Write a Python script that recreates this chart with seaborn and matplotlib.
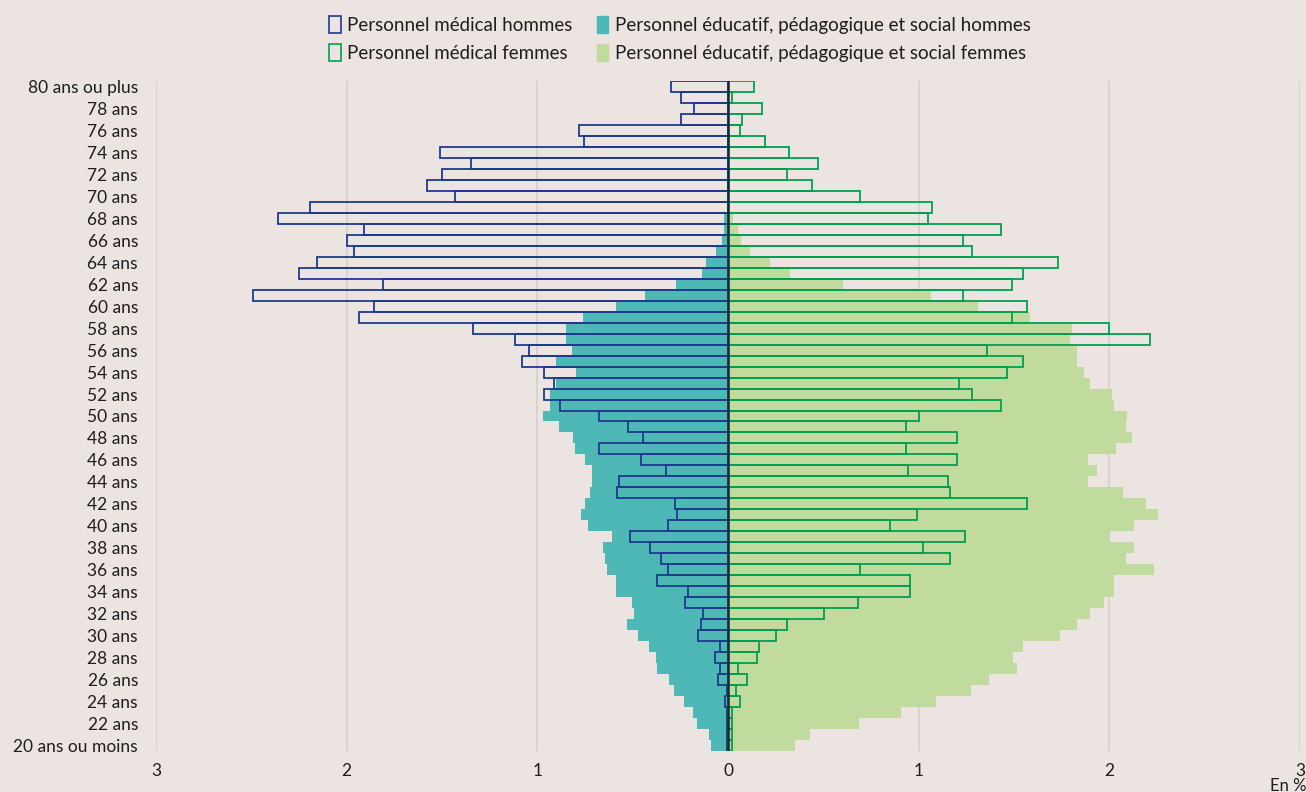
import matplotlib
matplotlib.use("Agg")
import matplotlib.pyplot as plt
from matplotlib.patches import Patch
import seaborn as sns
import pandas as pd

# ---- data -------------------------------------------------------------
ages = ["80 ans ou plus"] + [f"{a} ans" for a in range(79, 20, -1)] + ["20 ans ou moins"]

medical_hommes = [0.30, 0.245, 0.18, 0.245, 0.78, 0.755, 1.51, 1.35, 1.50, 1.58,
                  1.43, 2.19, 2.36, 1.91, 2.00, 1.96, 2.155, 2.25, 1.81, 2.49,
                  1.855, 1.935, 1.335, 1.115, 1.045, 1.08, 0.965, 0.915, 0.965, 0.88,
                  0.675, 0.525, 0.445, 0.675, 0.455, 0.325, 0.57, 0.58, 0.28, 0.27,
                  0.315, 0.515, 0.41, 0.35, 0.315, 0.375, 0.21, 0.225, 0.13, 0.14,
                  0.155, 0.04, 0.07, 0.04, 0.05, 0.005, 0.015, 0.005, 0.005, 0.005,
                  0.005]
educatif_hommes = [0.005, 0.005, 0.005, 0.005, 0.005, 0.005, 0.005, 0.005, 0.005, 0.005,
                   0.005, 0.005, 0.02, 0.02, 0.03, 0.065, 0.115, 0.135, 0.275, 0.435,
                   0.59, 0.76, 0.85, 0.85, 0.82, 0.90, 0.795, 0.90, 0.935, 0.935,
                   0.97, 0.885, 0.815, 0.805, 0.75, 0.715, 0.715, 0.725, 0.75, 0.77,
                   0.735, 0.61, 0.655, 0.645, 0.635, 0.59, 0.59, 0.505, 0.495, 0.53,
                   0.47, 0.415, 0.38, 0.37, 0.31, 0.285, 0.23, 0.185, 0.16, 0.10,
                   0.09]
medical_femmes = [0.135, 0.02, 0.18, 0.075, 0.065, 0.195, 0.32, 0.47, 0.31, 0.44,
                  0.69, 1.07, 1.05, 1.43, 1.235, 1.28, 1.73, 1.545, 1.49, 1.235,
                  1.57, 1.49, 2.0, 2.215, 1.36, 1.545, 1.465, 1.21, 1.28, 1.43,
                  1.0, 0.935, 1.20, 0.935, 1.20, 0.945, 1.155, 1.165, 1.57, 0.99,
                  0.85, 1.245, 1.025, 1.165, 0.69, 0.955, 0.955, 0.68, 0.505, 0.31,
                  0.25, 0.16, 0.15, 0.055, 0.10, 0.04, 0.065, 0.02, 0.02, 0.02,
                  0.02]
educatif_femmes = [0.0, 0.0, 0.0, 0.0, 0.01, 0.01, 0.01, 0.01, 0.01, 0.01,
                   0.01, 0.01, 0.025, 0.05, 0.07, 0.115, 0.22, 0.325, 0.605, 1.065,
                   1.31, 1.585, 1.805, 1.795, 1.83, 1.83, 1.865, 1.90, 2.015, 2.025,
                   2.095, 2.085, 2.12, 2.035, 1.89, 1.935, 1.89, 2.07, 2.19, 2.255,
                   2.13, 2.005, 2.13, 2.085, 2.235, 2.025, 2.025, 1.97, 1.90, 1.83,
                   1.74, 1.545, 1.495, 1.515, 1.37, 1.275, 1.09, 0.905, 0.685, 0.43,
                   0.35]

xticks = [-3, -2, -1, 0, 1, 2, 3]
xtick_labels = ["3", "2", "1", "0", "1", "2", "3"]
legend_labels = ["Personnel médical hommes", "Personnel médical femmes",
                 "Personnel éducatif, pédagogique et social hommes",
                 "Personnel éducatif, pédagogique et social femmes"]

# ---- styles -----------------------------------------------------------
BG = "#EBE4E1"
TEAL = "#4DB8B5"
LGREEN = "#C1DA9E"
BLUE = "#1E3A8E"
GREEN = "#00A050"
TXT = "#1E1E1E"

sns.set_theme(style="white")
plt.rcParams["font.family"] = ["Lato", "DejaVu Sans"]

df = pd.DataFrame({
    "age": ages,
    "med_h": [-v for v in medical_hommes],
    "edu_h": [-v for v in educatif_hommes],
    "med_f": medical_femmes,
    "edu_f": educatif_femmes,
})

fig = plt.figure(figsize=(13.06, 7.92), dpi=100, facecolor=BG)
ax = fig.add_axes([156 / 1306, 1 - 750.5 / 792, (1300 - 156) / 1306, (750.5 - 81.5) / 792])
ax.set_facecolor(BG)

for x in xticks:
    if x != 0:
        ax.axvline(x, color="#D6D0CD", lw=1.2, zorder=0)

sns.barplot(data=df, x="edu_h", y="age", order=ages, orient="h", width=1.0,
            color=TEAL, saturation=1, errorbar=None, linewidth=0, ax=ax, zorder=2)
sns.barplot(data=df, x="edu_f", y="age", order=ages, orient="h", width=1.0,
            color=LGREEN, saturation=1, errorbar=None, linewidth=0, ax=ax, zorder=2)
sns.barplot(data=df, x="med_h", y="age", order=ages, orient="h", width=1.0,
            color=BLUE, saturation=1, errorbar=None, fill=False, linewidth=1.3,
            ax=ax, zorder=3)
sns.barplot(data=df, x="med_f", y="age", order=ages, orient="h", width=1.0,
            color=GREEN, saturation=1, errorbar=None, fill=False, linewidth=1.3,
            ax=ax, zorder=3)

ax.axvline(0, color="#14263A", lw=1.8, zorder=4)

ax.set_xlim(-3, 3)
ax.set_ylim(len(ages) - 0.5, -0.5)
ax.set_xticks(xticks)
ax.set_xticklabels(xtick_labels)
ytick_pos = list(range(0, len(ages), 2))
ax.set_yticks(ytick_pos)
ax.set_yticklabels([ages[i] for i in ytick_pos])
ax.tick_params(axis="both", length=0, labelsize=12.5, labelcolor=TXT)
ax.tick_params(axis="y", pad=13)
ax.tick_params(axis="x", pad=9)
ax.set_xlabel("")
ax.set_ylabel("")
for s in ax.spines.values():
    s.set_visible(False)

fig.text(1306 / 1306, 1 - 786 / 792, "En %", ha="right", va="center",
         fontsize=12, color=TXT)

handles = [
    Patch(facecolor="none", edgecolor=BLUE, linewidth=1.2),
    Patch(facecolor="none", edgecolor=GREEN, linewidth=1.2),
    Patch(facecolor=TEAL, edgecolor=TEAL),
    Patch(facecolor=LGREEN, edgecolor=LGREEN),
]
fig.legend(handles, legend_labels, ncol=2, loc="center",
           bbox_to_anchor=(680 / 1306, 1 - 39 / 792), frameon=False,
           fontsize=13.5, handlelength=0.6, handleheight=1.0, handletextpad=0.35,
           columnspacing=1.3, labelspacing=0.55, labelcolor=TXT)

fig.savefig("out.png", dpi=100, facecolor=BG)
